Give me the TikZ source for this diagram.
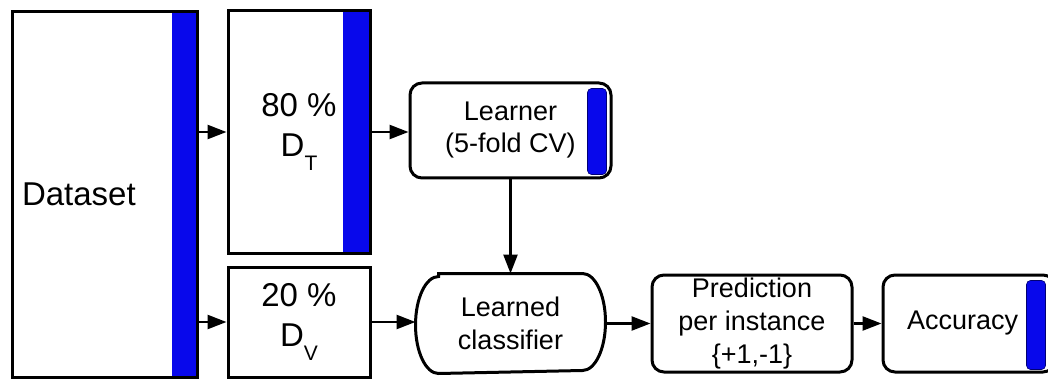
\documentclass[tikz,border=0pt]{standalone}
\usepackage{fontspec}
\setmainfont{Liberation Sans}
\usetikzlibrary{arrows.meta}
\definecolor{barblue}{RGB}{8,8,235}

\begin{document}
\begin{tikzpicture}[x=1pt, y=-1pt,
  setbox/.style={draw, line width=3pt, inner sep=0pt, align=center, font=\fontsize{33}{40}\selectfont},
  withbar/.style={path picture={\fill[barblue] ([xshift=-#1]path picture bounding box.north east) rectangle (path picture bounding box.south east);}},
  stepbox/.style={draw, line width=3pt, rounded corners=12pt, inner sep=0pt, align=center, font=\fontsize{27}{33}\selectfont},
  bar/.style={fill=barblue, draw=blue!45!black, line width=0.6pt, rounded corners=4pt},
  arr/.style={-{Triangle[length=19pt, width=14pt]}, line width=2.5pt}
]
  \useasboundingbox (0,0) rectangle (1048,379);
  \clip (0,0) rectangle (1048,379);
  % ===== data split =====
  \node[setbox, withbar=25pt, minimum height=365pt, text width=165pt, inner xsep=10pt, align=left] (data) at (104.5,194.5) {Dataset};
  \node[setbox, withbar=27pt, minimum width=142pt, minimum height=242pt] (train) at (299,132) {80 \%\\D\raisebox{-14pt}{\fontsize{21}{21}\selectfont T}};
  \node[setbox, minimum width=142pt, minimum height=110pt] (valid) at (299,322) {20 \%\\D\raisebox{-14pt}{\fontsize{21}{21}\selectfont V}};
  % ===== learning =====
  \node[stepbox, font=\fontsize{27}{32}\selectfont, minimum width=201pt, minimum height=95pt] (learner) at (510.5,130.5) {Learner\\(5-fold CV)};
  \fill[bar] ([xshift=-6pt, yshift=-7pt]learner.north east) rectangle ([xshift=-25pt, yshift=5pt]learner.south east);
  \node[stepbox, draw=none, minimum width=187pt, minimum height=97pt] (clf) at (510.5,323.5) {Learned\\classifier};
  \draw[line width=3pt] ([xshift=23pt]clf.north west) -- ([xshift=-23pt]clf.north east)
    arc[start angle=90, end angle=-90, x radius=23pt, y radius=48.5pt]
    -- ([xshift=23pt]clf.south west)
    arc[start angle=270, end angle=90, x radius=23pt, y radius=48.5pt] -- cycle;
  % ===== evaluation =====
  \node[stepbox, minimum width=200pt, minimum height=97pt] (pred) at (752,323.5) {Prediction\\per instance\\\{+1,-1\}};
  \node[stepbox, minimum height=97pt, text width=124pt, inner xsep=24pt, align=left] (acc) at (969,323.5) {Accuracy};
  \fill[bar] ([xshift=145pt, yshift=-7pt]acc.north west) rectangle ([xshift=164pt, yshift=4pt]acc.south west);
  % ===== connectors =====
  \draw[arr] (data.east |- train.west) -- (train.west);
  \draw[arr] (data.east |- valid.west) -- (valid.west);
  \draw[arr] (train.east) -- (train.east -| learner.west);
  \draw[arr] (learner.south) -- (learner.south |- clf.north);
  \draw[arr] (valid.east) -- (valid.east -| clf.west);
  \draw[arr] (clf.east) -- (pred.west);
  \draw[arr] (pred.east) -- (acc.west);
\end{tikzpicture}
\end{document}
